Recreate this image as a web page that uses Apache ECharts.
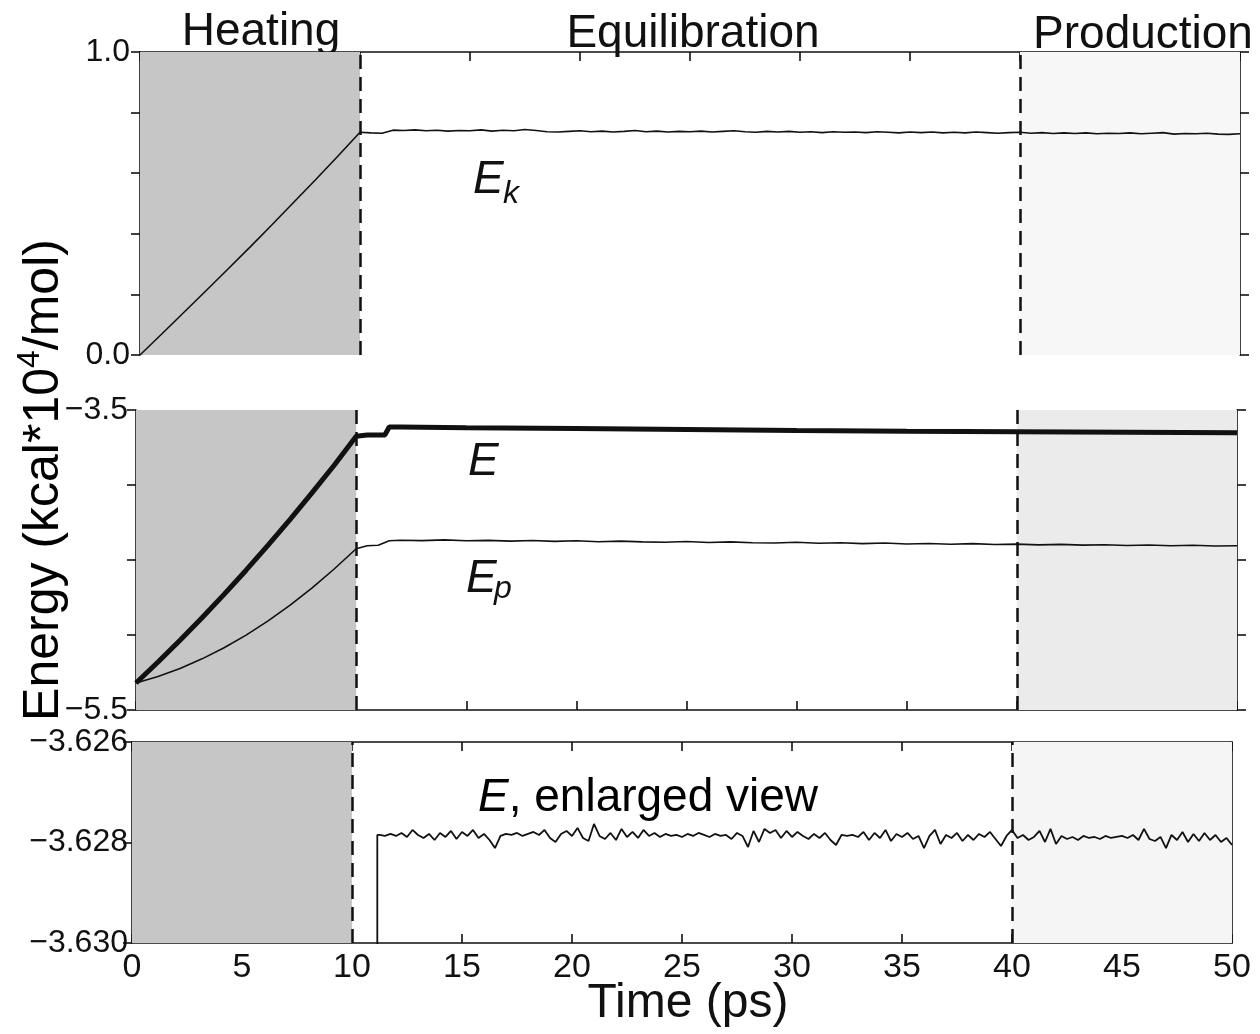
<!DOCTYPE html>
<html>
<head>
<meta charset="utf-8">
<script src="https://cdn.jsdelivr.net/npm/echarts@6/dist/echarts.min.js"></script>
<style>
  html, body { margin: 0; padding: 0; background: #fff; }
</style>
</head>
<body>
<div id="main" style="width:1260px;height:1034px;"></div>
<script type="text/javascript">
    // values
    var phaseNames = ['Heating', 'Equilibration', 'Production'];
    var phaseBounds = [10, 40];              // dashed lines (ps)

    // top panel: kinetic energy
    var heatTime = [0, 1, 2, 3, 4, 5, 6, 7, 8, 9, 10];
    var ekHeat = [0, 0.07, 0.141, 0.212, 0.284, 0.356, 0.43, 0.505, 0.58, 0.657, 0.735];
    var ekEqStart = 10.5, ekEqStep = 0.5;
    var ekEq = [0.733, 0.732, 0.742, 0.741, 0.743, 0.740, 0.742, 0.739, 0.741, 0.740,
                0.743, 0.739, 0.742, 0.740, 0.744, 0.741, 0.737, 0.736, 0.738, 0.740,
                0.737, 0.739, 0.736, 0.738, 0.741, 0.737, 0.739, 0.736, 0.738, 0.737,
                0.739, 0.736, 0.738, 0.740, 0.737, 0.735, 0.738, 0.736, 0.738, 0.735,
                0.737, 0.734, 0.737, 0.735, 0.736, 0.734, 0.737, 0.735, 0.733, 0.736,
                0.734, 0.736, 0.733, 0.735, 0.733, 0.736, 0.734, 0.732, 0.734, 0.735,
                0.732, 0.734, 0.731, 0.733, 0.731, 0.733, 0.730, 0.732, 0.731, 0.733,
                0.730, 0.732, 0.734, 0.729, 0.731, 0.730, 0.732, 0.729, 0.728, 0.730];

    // middle panel: total energy E and potential energy Ep
    var eHeat = [-5.32, -5.18, -5.035, -4.885, -4.729, -4.568, -4.401, -4.229, -4.051, -3.868, -3.675];
    var epHeat = [-5.32, -5.277, -5.223, -5.159, -5.085, -5.001, -4.906, -4.801, -4.686, -4.56, -4.425];
    var eEqTime = [10.5, 11, 11.3, 11.5, 12, 15, 20, 25, 30, 35, 40, 45, 50];
    var eEq = [-3.667, -3.667, -3.667, -3.613, -3.613, -3.618, -3.624, -3.630, -3.636, -3.641, -3.645, -3.649, -3.652];
    var epEqTime = [10.5, 11, 11.5, 12, 13, 14, 15, 16, 17, 18, 19, 20, 21, 22, 23, 24, 25, 26, 27, 28, 29, 30,
                    31, 32, 33, 34, 35, 36, 37, 38, 39, 40, 41, 42, 43, 44, 45, 46, 47, 48, 49, 50];
    var epEq = [-4.405, -4.402, -4.372, -4.368, -4.371, -4.366, -4.372, -4.369, -4.374, -4.370, -4.376,
                -4.372, -4.378, -4.374, -4.379, -4.382, -4.377, -4.383, -4.379, -4.385, -4.387, -4.382,
                -4.388, -4.385, -4.391, -4.387, -4.393, -4.390, -4.395, -4.391, -4.397, -4.394, -4.399,
                -4.396, -4.401, -4.398, -4.403, -4.400, -4.405, -4.402, -4.407, -4.405];

    // bottom panel: E enlarged (comes up from below the range at ~11.15 ps)
    var jumpTime = 11.15, jumpFrom = -3.640;
    var enlStart = 11.25, enlStep = 0.25;
    var enlE = [
        -3.62785, -3.62787, -3.62783, -3.62787, -3.62781, -3.62789, -3.62775, -3.62785,
        -3.62791, -3.62783, -3.62795, -3.62781, -3.62789, -3.62777, -3.62793, -3.62779,
        -3.62787, -3.62775, -3.62791, -3.62783, -3.62795, -3.62811, -3.62787, -3.62783,
        -3.62785, -3.62781, -3.62787, -3.62783, -3.62779, -3.62785, -3.62775, -3.62791,
        -3.62799, -3.62783, -3.62777, -3.62787, -3.62771, -3.62791, -3.62797, -3.62763,
        -3.62787, -3.62793, -3.62781, -3.62795, -3.62773, -3.62789, -3.62779, -3.62791,
        -3.62775, -3.62787, -3.62781, -3.62789, -3.62783, -3.62787, -3.62785, -3.62789,
        -3.62783, -3.62787, -3.62781, -3.62785, -3.62789, -3.62783, -3.62787, -3.62785,
        -3.62793, -3.62781, -3.62787, -3.62809, -3.62777, -3.62799, -3.62773, -3.62781,
        -3.62775, -3.62791, -3.62777, -3.62789, -3.62779, -3.62787, -3.62793, -3.62783,
        -3.62791, -3.62781, -3.62795, -3.62805, -3.62785, -3.62787, -3.62785, -3.62789,
        -3.62779, -3.62795, -3.62781, -3.62791, -3.62775, -3.62797, -3.62783, -3.62789,
        -3.62781, -3.62793, -3.62787, -3.62811, -3.62787, -3.62775, -3.62803, -3.62785,
        -3.62791, -3.62781, -3.62797, -3.62785, -3.62795, -3.62783, -3.62789, -3.62779,
        -3.62793, -3.62807, -3.62787, -3.62775, -3.62791, -3.62785, -3.62795, -3.62789,
        -3.62777, -3.62799, -3.62773, -3.62803, -3.62787, -3.62793, -3.62789, -3.62795,
        -3.62787, -3.62791, -3.62789, -3.62793, -3.62787, -3.62791, -3.62789, -3.62787,
        -3.62791, -3.62785, -3.62795, -3.62773, -3.62793, -3.62797, -3.62789, -3.62811,
        -3.62785, -3.62795, -3.62779, -3.62799, -3.62783, -3.62797, -3.62781, -3.62795,
        -3.62785, -3.62799, -3.62791, -3.62805];

    // build [t, v] pairs
    var ekData = [];
    heatTime.forEach(function (t, i) { ekData.push([t, ekHeat[i]]); });
    ekEq.forEach(function (v, i) { ekData.push([ekEqStart + i * ekEqStep, v]); });

    var eData = [], epData = [];
    heatTime.forEach(function (t, i) { eData.push([t, eHeat[i]]); epData.push([t, epHeat[i]]); });
    eEqTime.forEach(function (t, i) { eData.push([t, eEq[i]]); });
    epEqTime.forEach(function (t, i) { epData.push([t, epEq[i]]); });

    var enlData = [[jumpTime, jumpFrom], [jumpTime, enlE[0]]];
    enlE.forEach(function (v, i) { enlData.push([enlStart + i * enlStep, v]); });

    var font = '"Liberation Sans", Arial, Helvetica, sans-serif';
    var ink = '#111';
    var heatGray = '#c6c6c6';

    function minus(s) { return s.replace('-', '\u2212'); }

    function shading(prodColor) {
        return {
            silent: true,
            data: [
                [{ xAxis: 0, itemStyle: { color: heatGray } }, { xAxis: phaseBounds[0] }],
                [{ xAxis: phaseBounds[1], itemStyle: { color: prodColor } }, { xAxis: 50 }]
            ]
        };
    }
    var dashes = {
        silent: true,
        symbol: ['none', 'none'],
        label: { show: false },
        lineStyle: { color: ink, width: 2.5, type: [14, 8] },
        data: phaseBounds.map(function (b) { return { xAxis: b }; })
    };

    function xAxisCfg(grid, pos, labels) {
        return {
            type: 'value', gridIndex: grid, position: pos, min: 0, max: 50, interval: 5,
            axisLine: { show: true, onZero: false, lineStyle: { color: ink, width: 1.6 } },
            axisTick: { show: true, inside: true, length: 9, lineStyle: { color: ink, width: 1.6 } },
            axisLabel: { show: labels, color: ink, fontSize: 34, fontFamily: font, margin: 8 },
            splitLine: { show: false }
        };
    }
    function yAxisCfg(grid, pos, min, max, step, fmt, margin, ticks) {
        return {
            type: 'value', gridIndex: grid, position: pos, min: min, max: max, interval: step,
            axisLine: { show: true, onZero: false, lineStyle: { color: ink, width: 1.6 } },
            axisTick: { show: ticks, inside: false, length: 9, lineStyle: { color: ink, width: 1.6 } },
            axisLabel: { show: !!fmt, formatter: fmt, color: ink, fontSize: 32, fontFamily: font, margin: margin },
            splitLine: { show: false }
        };
    }

    var myChart = echarts.init(document.getElementById('main'));
    var option = {
        animation: false,
        backgroundColor: '#fff',
        grid: [
            { left: 140, top: 52, width: 1100, height: 303, outerBoundsMode: 'none' },
            { left: 136, top: 410, width: 1101, height: 300, outerBoundsMode: 'none' },
            { left: 132, top: 742, width: 1100, height: 201, outerBoundsMode: 'none' }
        ],
        xAxis: [
            xAxisCfg(0, 'top', false),
            xAxisCfg(1, 'bottom', false),
            xAxisCfg(2, 'bottom', true),
            xAxisCfg(2, 'top', false)
        ],
        yAxis: [
            yAxisCfg(0, 'left', 0, 1, 0.2, function (v) {
                return (v === 0 || v === 1) ? v.toFixed(1) : '';
            }, 10, true),
            yAxisCfg(0, 'right', 0, 1, 0.2, null, 8, true),
            yAxisCfg(1, 'left', -5.5, -3.5, 0.5, function (v) {
                return (v === -5.5 || v === -3.5) ? minus(v.toFixed(1)) : '';
            }, 8, true),
            yAxisCfg(1, 'right', -5.5, -3.5, 0.5, null, 8, true),
            yAxisCfg(2, 'left', -3.630, -3.626, 0.002, function (v) {
                return minus(v.toFixed(3));
            }, 4, true),
            yAxisCfg(2, 'right', -3.630, -3.626, 0.002, null, 8, false)
        ],
        series: [
            {
                name: 'Ek', type: 'line', xAxisIndex: 0, yAxisIndex: 0, data: ekData,
                symbol: 'none', lineStyle: { color: ink, width: 1.6 },
                markArea: shading('#f7f7f7'), markLine: dashes
            },
            {
                name: 'E', type: 'line', xAxisIndex: 1, yAxisIndex: 2, data: eData,
                symbol: 'none', lineStyle: { color: ink, width: 5 },
                markArea: shading('#ebebeb'), markLine: dashes
            },
            {
                name: 'Ep', type: 'line', xAxisIndex: 1, yAxisIndex: 2, data: epData,
                symbol: 'none', lineStyle: { color: ink, width: 1.6 }
            },
            {
                name: 'E enlarged', type: 'line', xAxisIndex: 2, yAxisIndex: 4, data: enlData,
                symbol: 'none', clip: true, lineStyle: { color: ink, width: 1.8 },
                markArea: shading('#f5f5f5'), markLine: dashes
            }
        ],
        graphic: [
            { type: 'text', x: 261, y: 32, style: { text: phaseNames[0], font: '46px ' + font, fill: ink, align: 'center', verticalAlign: 'middle', textAlign: 'center', textVerticalAlign: 'middle' } },
            { type: 'text', x: 693, y: 34, style: { text: phaseNames[1], font: '46px ' + font, fill: ink, align: 'center', verticalAlign: 'middle', textAlign: 'center', textVerticalAlign: 'middle' } },
            { type: 'text', x: 1143, y: 35, style: { text: phaseNames[2], font: '46px ' + font, fill: ink, align: 'center', verticalAlign: 'middle', textAlign: 'center', textVerticalAlign: 'middle' } },
            // x axis title
            { type: 'text', x: 688, y: 1004, style: { text: 'Time (ps)', font: '48px ' + font, fill: ink, align: 'center', verticalAlign: 'middle', textAlign: 'center', textVerticalAlign: 'middle' } },
            // y axis title
            {
                type: 'text', x: 44, y: 480, rotation: Math.PI / 2,
                style: {
                    text: '{a|Energy (kcal*10}{s|4}{a|/mol)}',
                    align: 'center', verticalAlign: 'middle', textAlign: 'center', textVerticalAlign: 'middle',
                    rich: {
                        a: { fontSize: 50, fontFamily: font, color: ink, lineHeight: 60 },
                        s: { fontSize: 32, fontFamily: font, color: ink, lineHeight: 32, verticalAlign: 'top' }
                    }
                }
            },
            // curve labels
            { type: 'text', x: 473, y: 180, style: { text: 'E', font: 'italic 46px ' + font, fill: ink, verticalAlign: 'middle', textVerticalAlign: 'middle' } },
            { type: 'text', x: 503, y: 194, style: { text: 'k', font: 'italic 32px ' + font, fill: ink, verticalAlign: 'middle', textVerticalAlign: 'middle' } },
            { type: 'text', x: 468, y: 462, style: { text: 'E', font: 'italic 46px ' + font, fill: ink, verticalAlign: 'middle', textVerticalAlign: 'middle' } },
            { type: 'text', x: 466, y: 579, style: { text: 'E', font: 'italic 46px ' + font, fill: ink, verticalAlign: 'middle', textVerticalAlign: 'middle' } },
            { type: 'text', x: 494, y: 589, style: { text: 'p', font: 'italic 32px ' + font, fill: ink, verticalAlign: 'middle', textVerticalAlign: 'middle' } },
            {
                type: 'text', x: 478, y: 798,
                style: {
                    text: '{i|E}{n|, enlarged view}', verticalAlign: 'middle', textVerticalAlign: 'middle',
                    rich: {
                        i: { fontSize: 46, fontStyle: 'italic', fontFamily: font, color: ink },
                        n: { fontSize: 46, fontFamily: font, color: ink }
                    }
                }
            }
        ]
    };
    myChart.setOption(option);
</script>
</body>
</html>
